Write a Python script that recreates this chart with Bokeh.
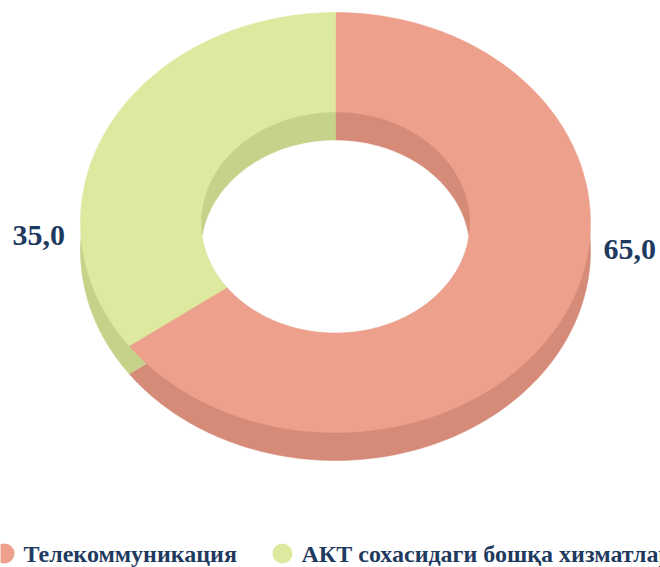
import numpy as np
from bokeh.plotting import figure
from bokeh.models import Range1d
from bokeh.core.properties import value
from bokeh.embed import file_html
from bokeh.resources import INLINE

categories = ["Телекоммуникация", "АКТ сохасидаги бошқа хизматлар"]
values = [65.0, 35.0]
labels = ["65,0", "35,0"]
top_colors = ["#EDA18D", "#DEE9A0"]
side_colors = ["#D58B78", "#C6D28A"]

CX, CY = 335, 222
RX, RY = 255, 210
IRX, IRY = 134, 110
DEPTH = 28
TEXT = "#1F3A5F"
FONT = value("Liberation Serif")

p = figure(width=660, height=567, output_backend="svg", toolbar_location=None,
           x_range=Range1d(0, 660), y_range=Range1d(567, 0),
           min_border=0, min_border_left=0, min_border_right=0,
           min_border_top=0, min_border_bottom=0)
p.axis.visible = False
p.grid.visible = False
p.outline_line_color = None
p.background_fill_color = "white"
p.border_fill_color = "white"


def wedge(a0, a1, rx, ry, cy):
    t = np.linspace(a0, a1, 240)
    return ([CX, *(CX + rx * np.sin(t))], [cy, *(cy - ry * np.cos(t))])


fractions = np.array(values) / sum(values)
edges = np.concatenate([[0], np.cumsum(fractions)]) * 2 * np.pi
spans = list(zip(edges[:-1], edges[1:]))

# outer side wall, one level down
for (a0, a1), col in zip(spans, side_colors):
    xs, ys = wedge(a0, a1, RX, RY, CY + DEPTH)
    p.patch(xs, ys, fill_color=col, line_color=col, line_width=0.5)
# top face
for (a0, a1), col in zip(spans, top_colors):
    xs, ys = wedge(a0, a1, RX, RY, CY)
    p.patch(xs, ys, fill_color=col, line_color=col, line_width=0.5)
# inner wall
for (a0, a1), col in zip(spans, side_colors):
    xs, ys = wedge(a0, a1, IRX, IRY, CY)
    p.patch(xs, ys, fill_color=col, line_color=col, line_width=0.5)
# visible hole: inner ellipse overlapped with its lowered copy
half = IRX * np.sqrt(1 - (DEPTH / 2 / IRY) ** 2)
hx = np.linspace(-half, half, 300)
root = IRY * np.sqrt(1 - (hx / IRX) ** 2)
hole_x = np.concatenate([CX + hx, CX + hx[::-1]])
hole_y = np.concatenate([CY + DEPTH - root, (CY + root)[::-1]])
p.patch(hole_x, hole_y, fill_color="white", line_color="white", line_width=0.5)

# data labels
p.text([603], [249], text=[labels[0]], text_font=FONT, text_font_style="bold",
       text_font_size="30px", text_color=TEXT, text_baseline="middle", text_align="left")
p.text([12], [235], text=[labels[1]], text_font=FONT, text_font_style="bold",
       text_font_size="30px", text_color=TEXT, text_baseline="middle", text_align="left")

# legend
p.scatter([4, 282], [553, 553], size=20, marker="circle",
          fill_color=top_colors, line_color=None)
p.text([23, 301], [553, 553], text=categories, text_font=FONT, text_font_style="bold",
       text_font_size="24px", text_color=TEXT, text_baseline="middle", text_align="left")

open("out.html", "w").write(file_html(p, INLINE))
